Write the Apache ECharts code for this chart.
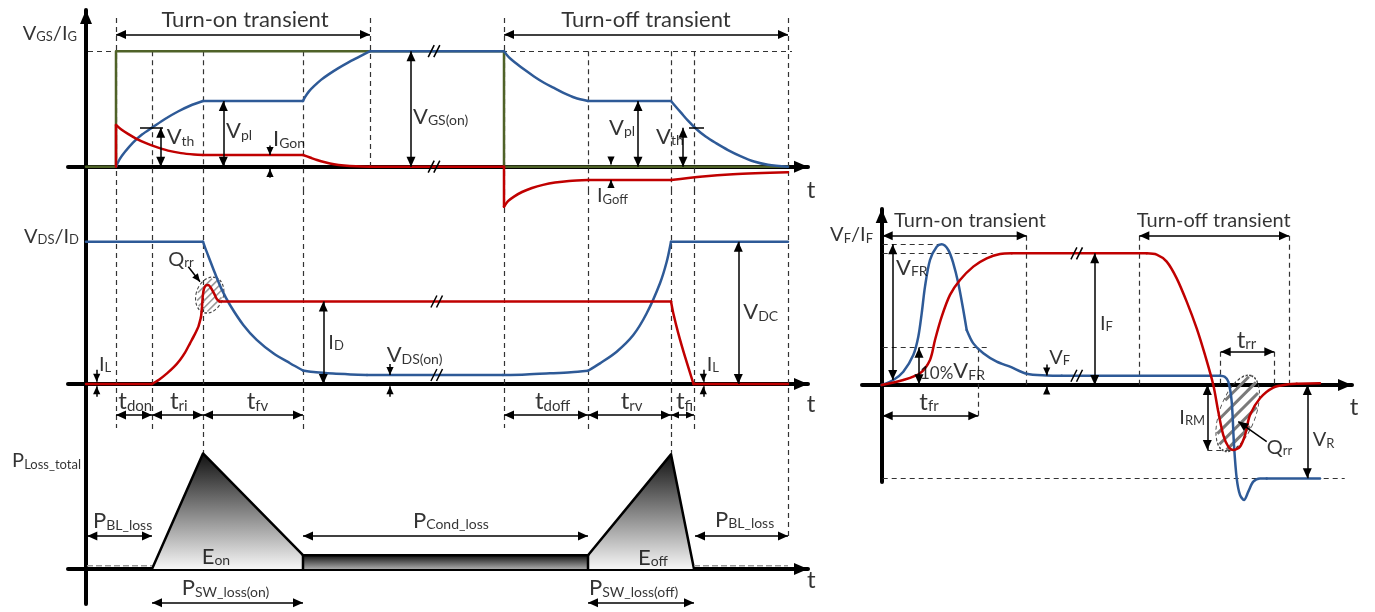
<!DOCTYPE html>
<html><head><meta charset="utf-8">
<script src="https://cdn.jsdelivr.net/npm/echarts@6.0.0/dist/echarts.min.js"></script>
<style>html,body{margin:0;padding:0;background:#fff}#c{width:1375px;height:612px}</style>
</head><body><div id="c"></div>
<script>
// ===================== DATA (time: arbitrary units, amplitudes: normalised) =====================
// ---- gate panel: VGS (blue), IG (red), gate drive (green)
const gateDrive = [[0,0],[3.0,0],[3.0,10.05],[41.8,10.05],[41.8,0],[70.2,0]];
const vgsRiseOn   = [[3.0,0],[3.4,0.7],[3.9,1.3],[4.7,2.1],[5.6,2.8],[6.7,3.45],[7.9,4.15],[9.2,4.8],[10.4,5.3],[11.7,5.71]];
const vgsPlateauOn = [[11.7,5.71],[21.7,5.71]];
const vgsRiseOn2  = [[21.7,5.71],[21.9,6.05],[22.3,6.55],[22.8,7.0],[23.5,7.55],[24.3,8.05],[25.2,8.55],[26.2,9.05],[27.3,9.55],[28.4,10.05]];
const vgsOnState  = [[28.4,10.05],[41.8,10.05]];
const vgsFallOff  = [[41.8,10.05],[42.3,9.5],[43.0,9.0],[43.9,8.4],[44.8,7.85],[45.8,7.3],[46.8,6.85],[47.8,6.4],[48.9,6.0],[50.2,5.71]];
const vgsPlateauOff = [[50.2,5.71],[58.5,5.71]];
const vgsFallOff2 = [[58.5,5.71],[58.9,5.3],[59.5,4.7],[60.2,4.0],[61.0,3.3],[62.0,2.6],[63.0,2.05],[64.2,1.45],[65.5,0.9],[66.8,0.45],[68.2,0.17],[70.2,0.0]];
const igStepOn    = [[3.0,0],[3.0,3.63]];
const igDecayOn   = [[3.0,3.63],[3.5,3.25],[4.2,2.85],[5.0,2.45],[6.0,2.05],[7.0,1.72],[8.2,1.4],[9.5,1.18],[10.8,1.06],[11.7,1.02]];
const igPlateauOn = [[11.7,1.02],[21.7,1.02]];
const igDecayOn2  = [[21.7,1.02],[22.4,0.8],[23.1,0.58],[23.9,0.38],[24.8,0.21],[25.8,0.1],[27.0,0.03],[28.4,0]];
const igZero      = [[28.4,0],[41.8,0]];
const igStepOff   = [[41.8,0],[41.8,-3.48]];
const igDecayOff  = [[41.8,-3.48],[42.2,-3.0],[42.8,-2.6],[43.6,-2.2],[44.6,-1.85],[45.7,-1.58],[46.9,-1.38],[48.3,-1.24],[50.2,-1.16]];
const igPlateauOff = [[50.2,-1.16],[58.5,-1.16]];
const igTailOff   = [[58.5,-1.16],[61.4,-0.87],[64.7,-0.66],[70.2,-0.49]];

// ---- drain panel: VDS (blue), ID (red)
const vdsOff1   = [[0,10.0],[11.7,10.0]];
const vdsFall   = [[11.7,10.0],[11.9,9.6],[12.23,9.0],[12.9,7.78],[13.57,6.65],[14.4,5.55],[15.73,4.15],[17.07,3.1],[18.73,2.16],[20.4,1.46],[21.7,0.95]];
const vdsTail   = [[21.7,0.95],[23.0,0.82],[24.7,0.73],[26.5,0.67],[28.1,0.63]];
const vdsOn     = [[28.1,0.63],[41.7,0.63]];
const vdsCreep  = [[41.7,0.63],[44.0,0.67],[46.4,0.75],[48.5,0.83],[50.2,0.93]];
const vdsRise   = [[50.2,0.93],[51.4,1.45],[53.07,2.27],[54.73,3.44],[56.07,4.97],[57.4,7.08],[58.07,8.59],[58.5,10.0]];
const vdsOff2   = [[58.5,10.0],[70.2,10.0]];
const idOff1    = [[0,0],[6.6,0]];
const idRise    = [[6.6,0],[7.3,0.3],[8.1,0.75],[8.8,1.2],[9.4,1.69],[9.9,2.2],[10.4,2.86],[10.85,3.45],[11.25,4.05],[11.5,4.7]];
const idPeak    = [[11.5,4.7],[11.6,5.4],[11.68,6.2],[11.8,6.7],[12.0,6.93],[12.2,6.95],[12.5,6.75],[12.85,6.3],[13.1,5.95],[13.35,5.8]];
const idOn      = [[13.35,5.8],[58.5,5.8]];
const idFall    = [[58.5,5.8],[58.73,4.97],[59.23,3.56],[59.9,1.92],[60.75,0]];
const idOff2    = [[60.75,0],[70.2,0]];

// ---- loss panel
const eonArea   = [[6.6,0],[11.7,10.05],[21.7,1.2],[21.7,0]];
const condArea  = [[21.7,1.2],[50.2,1.2]];
const eoffArea  = [[50.2,0],[50.2,1.2],[58.5,9.97],[60.8,0]];
const blockLossL = [[0.1,0.29],[6.6,0.29]];
const blockLossR = [[60.8,0.29],[70.2,0.29]];

// ---- diode panel: VF (blue), IF (red)
const vfRecovery = [[0,0],[1.16,0.38],[2.16,1.01],[3.16,2.28],[3.66,3.67],[4.0,5.44],[4.33,7.47],[4.83,9.49],[5.5,10.5],[6.0,10.68],[6.66,10.25],[7.16,9.24],[7.66,7.72],[8.16,5.69],[8.5,4.18]];
const vfTail     = [[8.5,4.18],[9.16,3.16],[10.16,2.41],[11.5,1.77],[12.83,1.39],[14.5,0.85],[16.5,0.72],[18.0,0.7]];
const vfOn       = [[18.0,0.7],[33.83,0.7]];
const vfReverse  = [[33.83,0.7],[34.3,0.62],[34.66,0.25],[35.0,-1.27],[35.23,-4.56],[35.5,-7.09],[35.83,-8.35],[36.23,-8.73],[36.66,-8.1],[37.16,-7.34],[37.83,-7.09],[38.5,-7.09]];
const vfBlocking = [[38.5,-7.09],[43.83,-7.09]];
const ifRise     = [[0,0],[2.16,0.38],[3.83,0.89],[4.83,1.9],[5.33,3.42],[6.0,5.19],[6.83,6.84],[7.83,7.97],[9.16,8.99],[10.5,9.62],[11.83,9.95],[13.0,10.0]];
const ifOn       = [[13.0,10.0],[26.5,10.0]];
const ifFall     = [[26.5,10.0],[27.5,9.9],[28.5,9.37],[29.5,8.1],[30.5,6.33],[31.5,4.3],[32.33,2.28],[33.16,0],[33.66,-2.03],[34.16,-3.8],[34.66,-4.68],[35.16,-4.94],[35.83,-4.68],[36.33,-3.8],[36.83,-2.28],[37.83,-1.01],[39.16,-0.2],[40.66,0.05],[41.5,0.1]];
const ifOff      = [[41.5,0.1],[43.83,0.13]];

// ---- annotation geometry (data units): arrows [t1,v1,t2,v2,heads(1|2),small]
const gateArrows = [[3.0,11.5,28.4,11.5,2],[41.8,11.5,70.2,11.5,2],[7.47,3.39,7.47,0,2],[13.73,5.71,13.73,0,2],
  [18.4,1.85,18.4,1.02,1,1],[18.4,-0.95,18.4,-0.2,1,1],[32.5,10.05,32.5,0,2],[55.2,5.71,55.2,0,2],[59.7,3.39,59.7,0,2],
  [52.5,0.85,52.5,0.2,1,1],[52.5,-1.8,52.5,-1.16,1,1]];
const drainArrows = [[1.07,1.0,1.07,0.15,1,1],[1.07,-0.9,1.07,-0.15,1,1],[23.73,5.8,23.73,0,2],[30.4,1.4,30.4,0.63,1,1],
  [30.4,-0.9,30.4,-0.15,1,1],[65.23,10.0,65.23,0,2],[61.73,1.0,61.73,0.15,1,1],[61.73,-0.9,61.73,-0.15,1,1],
  [10.23,8.24,11.4,7.19,1,1],[3.0,-2.18,6.6,-2.18,2],[6.6,-2.18,11.7,-2.18,2],[11.7,-2.18,21.7,-2.18,2],
  [41.8,-2.18,50.2,-2.18,2],[50.2,-2.18,58.5,-2.18,2],[58.5,-2.18,60.8,-2.18,2,1]];
const lossArrows = [[0.13,2.87,6.6,2.87,2],[21.7,2.87,50.2,2.87,2],[60.9,2.87,70.2,2.87,2],[6.6,-2.93,21.7,-2.93,2],[50.2,-2.93,60.8,-2.93,2]];
const diodeArrows = [[0.1,11.34,14.5,11.34,2],[25.76,11.34,40.73,11.34,2],[1.1,10.68,1.1,0.38,2],[3.73,2.83,3.73,0.05,2],
  [0.1,-2.33,9.66,-2.33,2],[16.5,1.55,16.5,0.72,1,1],[16.5,-0.65,16.5,-0.12,1,1],[21.3,10.0,21.3,0,2],[33.9,2.53,39.26,2.53,2],
  [32.56,0,32.56,-4.94,2],[38.5,-4.3,35.66,-2.78,1],[42.56,0,42.56,-7.08,2]];
// vertical guides of the left panels [t, fromPanel, fromV, toPanel, toV]
const leftGuides = [[3.0,'gate',12.93,'drain',-3.1],[6.6,'gate',10.05,'loss',-3.13],[11.7,'gate',10.05,'loss',10.05],
  [21.7,'gate',10.05,'loss',-3.13],[28.4,'gate',12.93,'gate',0],[41.8,'gate',12.93,'drain',-3.1],[50.2,'gate',10.05,'loss',-3.13],
  [58.5,'gate',10.05,'loss',9.97],[60.8,'gate',10.05,'loss',-3.13],[70.2,'gate',12.93,'loss',2.87]];
const gateLevelGuides = [[0.2,10.05,70.6,10.05]];
const diodeGuides = [[14.5,11.34,14.5,0],[25.76,11.34,25.76,0],[40.73,11.34,40.73,0],[9.66,2.83,9.66,-2.51],
  [33.9,2.53,33.9,0],[39.26,2.53,39.26,0],[0.1,10.68,6.0,10.68],[0.1,10.0,11.1,10.0],[0.1,2.83,10.66,2.83],
  [32.56,-4.94,35.1,-4.94],[0.1,-7.08,46.3,-7.08]];
const gateTicks = [[5.4,3.39,7.7,3.39],[60.3,3.39,61.8,3.39]];
const gateBreaks = [[34.8,10.05],[34.8,0]];
const drainBreaks = [[35.07,5.8],[35.07,0.63]];
const diodeBreaks = [[19.5,10.0],[19.5,0.7]];
const drainQrr = [12.37,6.25];
const diodeQrr = [35.6,-2.15];

// ---- texts [t, v, rich text, align]
const gateLabels = [[-0.9,11.7,'{A|V}{a|GS}{A|/I}{a|G}','right'],[15.9,12.93,'{H|Turn-on transient}','center'],
  [56.0,12.93,'{H|Turn-off transient}','center'],[8.07,2.67,'{M|V}{S|th}','left'],[14.0,3.16,'{M|V}{S|pl}','left'],
  [18.7,2.49,'{M|I}{S|Gon}','left'],[32.7,4.43,'{M|V}{S|GS(on)}','left'],[52.3,3.48,'{M|V}{S|pl}','left'],
  [57.0,2.7,'{M|V}{S|th}','left'],[51.1,-2.46,'{m|I}{s|Goff}','left'],[72.07,-1.94,'{T|t}','left']];
const drainLabels = [[-0.7,10.44,'{A|V}{a|DS}{A|/I}{a|D}','right'],[8.23,8.83,'{m|Q}{s|rr}','left'],[1.3,1.47,'{m|I}{s|L}','left'],
  [24.23,2.97,'{m|I}{s|D}','left'],[30.07,2.1,'{M|V}{S|DS(on)}','left'],[65.73,5.13,'{M|V}{S|DC}','left'],
  [62.07,1.47,'{m|I}{s|L}','left'],[3.23,-1.16,'{T|t}{U|don}','left'],[8.4,-1.16,'{T|t}{U|ri}','left'],
  [16.07,-1.16,'{T|t}{U|fv}','left'],[44.9,-1.16,'{T|t}{U|doff}','left'],[53.47,-1.16,'{T|t}{U|rv}','left'],
  [59.0,-1.16,'{T|t}{U|fi}','left'],[72.07,-1.34,'{T|t}','left']];
const lossLabels = [[-0.5,9.48,'{A|P}{a|Loss_total}','right'],[0.7,4.26,'{M|P}{S|BL_loss}','left'],
  [62.9,4.39,'{M|P}{S|BL_loss}','left'],[32.7,4.3,'{M|P}{S|Cond_loss}','left'],[11.57,1.17,'{M|E}{S|on}','left'],
  [55.2,1.07,'{M|E}{S|off}','left'],[9.57,-1.6,'{M|P}{S|SW_loss(on)}','left'],[50.3,-1.57,'{M|P}{S|SW_loss(off)}','left'],
  [72.1,-0.87,'{T|t}','left']];
const diodeLabels = [[-0.87,11.47,'{A|V}{a|F}{A|/I}{a|F}','right'],[8.83,12.66,'{h|Turn-on transient}','center'],
  [33.2,12.66,'{h|Turn-off transient}','center'],[1.43,9.0,'{M|V}{S|FR}','left'],[3.83,1.14,'{N|10%}{M|V}{S|FR}','left'],
  [3.76,-1.2,'{T|t}{U|fr}','left'],[16.76,2.15,'{m|V}{s|F}','left'],[21.83,4.78,'{m|I}{s|F}','left'],
  [35.5,3.49,'{T|t}{U|rr}','left'],[29.76,-2.4,'{m|I}{s|RM}','left'],[38.5,-4.68,'{m|Q}{s|rr}','left'],
  [43.1,-4.1,'{m|V}{s|R}','left'],[46.8,-1.58,'{T|t}','left']];

// ===================== LAYOUT & STYLE =====================
const BLUE = '#2E5A97', RED = '#C00000', GREEN = '#4F6228';
const FONT = 'Lato';
const PANELS = {
  gate:  {gi:0, top:10,  bottom:190, zero:166.7, unit:11.5,  yArrow:true,  x:'left'},
  drain: {gi:1, top:190, bottom:432, zero:384,   unit:14.23, yArrow:false, x:'left'},
  loss:  {gi:2, top:432, bottom:604, zero:569,   unit:11.5,  yArrow:false, x:'left'},
  diode: {gi:3, top:209, bottom:482, zero:385,   unit:13.17, yArrow:true,  x:'diode'}
};
const XL = {left:{x0:86, unit:10, l:68, r:808}, diode:{x0:881.7, unit:10, l:862, r:1352}};
const ARROW = 'path://M0,0L4.5,10L-4.5,10ZM-10,-10M10,10';
const AXIS_ARROW = 'path://M0,0L6,14L-6,14ZM-14,-14M14,14';
const mk = (fs, lh) => ({fontSize:fs, lineHeight:lh, verticalAlign:'bottom', fontFamily:FONT, color:'#000'});
const RICH = { A:mk(20,22), a:mk(13,16), M:mk(22,24), S:mk(14,18), m:mk(20,22), s:mk(13,17),
  T:mk(24,26), U:mk(15,20), N:mk(17,20), H:mk(22,26), h:mk(20,24) };

const order = ['gate','drain','loss','diode'];
order.forEach(k => { const p = PANELS[k], x = XL[p.x];
  p.ymin = (p.zero - p.bottom) / p.unit; p.ymax = (p.zero - p.top) / p.unit;
  p.xmin = (x.l - x.x0) / x.unit; p.xmax = (x.r - x.x0) / x.unit; p.xunit = x.unit; });

const grid = [], xAxis = [], yAxis = [];
order.forEach(k => { const p = PANELS[k], x = XL[p.x];
  grid.push({left:x.l, top:p.top, width:x.r - x.l, height:p.bottom - p.top, containLabel:false, outerBoundsMode:'none'});
  const line = {color:'#000', width:4};
  xAxis.push({type:'value', gridIndex:p.gi, min:p.xmin, max:p.xmax, axisLine:{show:true, onZero:true, symbol:['none',AXIS_ARROW], symbolSize:[28,28], lineStyle:line}, axisTick:{show:false}, axisLabel:{show:false}, splitLine:{show:false}});
  yAxis.push({type:'value', gridIndex:p.gi, min:p.ymin, max:p.ymax, axisLine:{show:true, onZero:true, symbol:['none', p.yArrow ? AXIS_ARROW : 'none'], symbolSize:[28,28], lineStyle:line}, axisTick:{show:false}, axisLabel:{show:false}, splitLine:{show:false}});
});

const series = [];
function lineS(panel, data, color, width, extra) {
  const gi = PANELS[panel].gi;
  series.push(Object.assign({type:'line', xAxisIndex:gi, yAxisIndex:gi, data:data, symbol:'none', showSymbol:false,
    smooth: data.length > 2 ? 0.3 : false, clip:false, silent:true, animation:false, z:3,
    lineStyle:{color:color, width:width, cap:'round', join:'round'}}, extra || {}));
}
function carrier(panel, lines, style, z) {
  const gi = PANELS[panel].gi;
  series.push({type:'scatter', xAxisIndex:gi, yAxisIndex:gi, data:[[0,0]], symbolSize:0, silent:true, animation:false, clip:false, z:z,
    markLine:{silent:true, animation:false, z:z, symbol:['none','none'], symbolSize:20, label:{show:false}, emphasis:{disabled:true}, lineStyle:style, data:lines}});
}
const seg = (a, b, s1, s2, sz) => [{coord:a, symbol:s1 || 'none', symbolSize:sz || 20}, {coord:b, symbol:s2 || 'none', symbolSize:sz || 20}];
const arrowItems = arr => arr.map(a => seg([a[0],a[1]],[a[2],a[3]], a[4] === 2 ? ARROW : 'none', ARROW, a[5] ? 16 : 20));
const plainItems = arr => arr.map(a => seg([a[0],a[1]],[a[2],a[3]]));
function breakItems(panel, arr) { const p = PANELS[panel], out = [];
  arr.forEach(b => [-0.28, 0.28].forEach(dx => out.push(seg([b[0]+dx-3/p.xunit, b[1]-6/p.unit],[b[0]+dx+3/p.xunit, b[1]+6/p.unit])))); return out; }

// guides (split over the stacked left panels)
const dashed = {type:[5,4], color:'#333', width:1.2};
const guideByPanel = {gate:plainItems(gateLevelGuides), drain:[], loss:[]};
const leftOrder = ['gate','drain','loss'];
leftGuides.forEach(g => { const i0 = leftOrder.indexOf(g[1]), i1 = leftOrder.indexOf(g[3]);
  for (let i = i0; i <= i1; i++) { const p = PANELS[leftOrder[i]];
    const top = i === i0 ? g[2] : p.ymax - 1e-6, bot = i === i1 ? g[4] : p.ymin + 1e-6;
    guideByPanel[leftOrder[i]].push(seg([g[0], top],[g[0], bot])); } });
carrier('gate', guideByPanel.gate, dashed, 1);
carrier('drain', guideByPanel.drain, dashed, 1);
carrier('loss', guideByPanel.loss, dashed, 1);
carrier('diode', plainItems(diodeGuides), dashed, 1);

// hatched Qrr regions: dashed elliptic outline + diagonal hatch chords
const ELLIPSE = 'path://M0,-50A50,50,0,1,1,0,50A50,50,0,1,1,0,-50Z';
function ellipseS(panel, pt, size, rot) { const gi = PANELS[panel].gi;
  series.push({type:'scatter', xAxisIndex:gi, yAxisIndex:gi, data:[pt], symbol:ELLIPSE, symbolSize:size, symbolRotate:rot,
    silent:true, animation:false, clip:false, z:2,
    itemStyle:{color:'rgba(0,0,0,0)', borderColor:'#444', borderWidth:1.2, borderType:[3,2], opacity:1}}); }
function hatchItems(panel, c, size, rotDeg, spacing) {
  const p = PANELS[panel], a = size[0]/2 - 1.5, b = size[1]/2 - 1.5, th = -rotDeg * Math.PI / 180, out = [];
  const toLoc = v => [v[0]*Math.cos(th) + v[1]*Math.sin(th), -v[0]*Math.sin(th) + v[1]*Math.cos(th)];
  const u = [Math.SQRT1_2, -Math.SQRT1_2], n = [Math.SQRT1_2, Math.SQRT1_2];
  const K = Math.ceil(Math.max(a, b) / spacing);
  for (let k = -K; k <= K; k++) {
    const o = [k*spacing*n[0], k*spacing*n[1]], lo = toLoc(o), lu = toLoc(u);
    const A = lu[0]*lu[0]/(a*a) + lu[1]*lu[1]/(b*b), B = 2*(lo[0]*lu[0]/(a*a) + lo[1]*lu[1]/(b*b)), C = lo[0]*lo[0]/(a*a) + lo[1]*lo[1]/(b*b) - 1;
    const D = B*B - 4*A*C; if (D <= 0) continue;
    const pts = [(-B - Math.sqrt(D))/(2*A), (-B + Math.sqrt(D))/(2*A)].map(s => [o[0] + s*u[0], o[1] + s*u[1]])
      .map(q => [c[0] + q[0]/p.xunit, c[1] - q[1]/p.unit]);
    out.push(seg(pts[0], pts[1]));
  }
  return out;
}
ellipseS('drain', drainQrr, [27,37], -20);
ellipseS('diode', diodeQrr, [36,80], -20);
carrier('drain', hatchItems('drain', drainQrr, [27,37], -20, 5), {type:'solid', color:'#9a9a9a', width:1.6}, 2);
carrier('diode', hatchItems('diode', diodeQrr, [36,80], -20, 9), {type:'solid', color:'#7a7a7a', width:3}, 2);

// waveforms
const W = 2.5;
lineS('gate', gateDrive, GREEN, W, {smooth:false});
[vgsRiseOn, vgsPlateauOn, vgsRiseOn2, vgsOnState, vgsFallOff, vgsPlateauOff, vgsFallOff2].forEach(d => lineS('gate', d, BLUE, W));
[igStepOn, igDecayOn, igPlateauOn, igDecayOn2, igZero, igStepOff, igDecayOff, igPlateauOff, igTailOff].forEach(d => lineS('gate', d, RED, W));
[vdsOff1, vdsFall, vdsTail, vdsOn, vdsCreep, vdsRise, vdsOff2].forEach(d => lineS('drain', d, BLUE, W));
[idOff1, idRise, idPeak, idOn, idFall, idOff2].forEach(d => lineS('drain', d, RED, W, {smooth: 0.2}));
const grad = stops => ({type:'linear', x:0, y:0, x2:0, y2:1, colorStops:stops});
lineS('loss', eonArea, '#000', 2.5, {smooth:false, areaStyle:{opacity:1, color:grad([{offset:0,color:'#111'},{offset:1,color:'#f6f6f6'}])}});
lineS('loss', condArea, '#000', 2.5, {smooth:false, areaStyle:{opacity:1, color:grad([{offset:0,color:'#111'},{offset:1,color:'#aaa'}])}});
lineS('loss', eoffArea, '#000', 2.5, {smooth:false, areaStyle:{opacity:1, color:grad([{offset:0,color:'#111'},{offset:1,color:'#f6f6f6'}])}});
lineS('loss', blockLossL, '#999', 1.5, {lineStyle:{color:'#999', width:1.5, type:[6,3]}});
lineS('loss', blockLossR, '#999', 1.5, {lineStyle:{color:'#999', width:1.5, type:[6,3]}});
[vfRecovery, vfTail, vfOn, vfReverse, vfBlocking].forEach(d => lineS('diode', d, BLUE, W));
[ifRise, ifOn, ifFall, ifOff].forEach(d => lineS('diode', d, RED, W));

// arrows, ticks, breaks
const solid = {type:'solid', color:'#000', width:1.5};
carrier('gate', arrowItems(gateArrows).concat(plainItems(gateTicks), breakItems('gate', gateBreaks)), solid, 6);
carrier('drain', arrowItems(drainArrows).concat(breakItems('drain', drainBreaks)), solid, 6);
carrier('loss', arrowItems(lossArrows), solid, 6);
carrier('diode', arrowItems(diodeArrows).concat(breakItems('diode', diodeBreaks)), solid, 6);

// texts
function labelS(panel, labels) { const gi = PANELS[panel].gi;
  series.push({type:'scatter', xAxisIndex:gi, yAxisIndex:gi, symbolSize:1, silent:true, animation:false, clip:false, z:10,
    itemStyle:{color:'transparent'},
    data: labels.map(l => ({value:[l[0], l[1]], label:{show:true, position:'inside', align:l[3], verticalAlign:'middle',
      formatter:l[2], color:'#000', fontFamily:FONT, rich:RICH}}))}); }
labelS('gate', gateLabels); labelS('drain', drainLabels); labelS('loss', lossLabels); labelS('diode', diodeLabels);

const chart = echarts.init(document.getElementById('c'), null, {renderer:'canvas'});
chart.setOption({animation:false, backgroundColor:'#fff', textStyle:{fontFamily:FONT}, grid, xAxis, yAxis, series});
</script></body></html>
